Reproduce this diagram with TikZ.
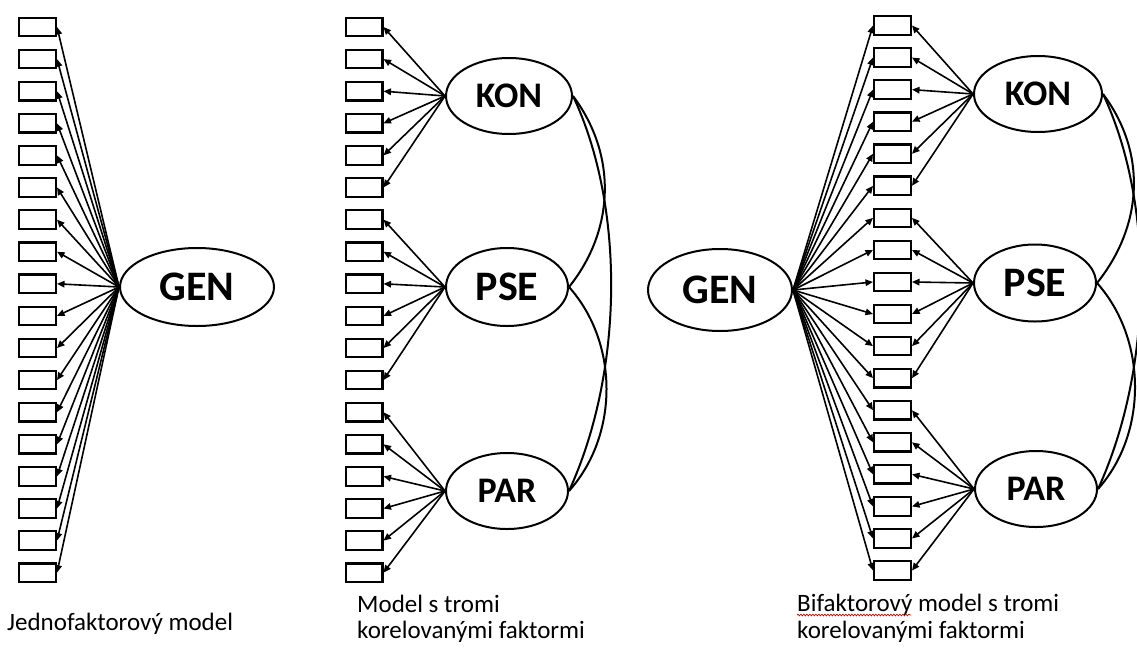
\documentclass[tikz,border=0pt]{standalone}
\usepackage{fontspec}
\setmainfont{Carlito}
\usetikzlibrary{shapes.geometric,arrows.meta,decorations.pathmorphing}

\begin{document}
\begin{tikzpicture}[x=1pt,y=-1pt,
  item/.style={draw, line width=2.2pt, minimum width=36.8pt, minimum height=18.5pt, inner sep=0pt},
  latent/.style={draw, ellipse, line width=2pt, inner sep=0pt},
  small/.style={font=\bfseries\fontsize{36}{40}\selectfont},
  big/.style={font=\bfseries\fontsize{42}{48}\selectfont},
  load/.style={line width=1.6pt, -{Triangle[length=7.5pt,width=6.5pt]}},
  corr/.style={line width=2pt},
  caption/.style={anchor=base west, inner sep=0pt, font=\fontsize{25}{27}\selectfont},
  spell/.style={draw=red!75!black, line width=0.7pt, decorate,
    decoration={snake, amplitude=0.8pt, segment length=3pt}}]

% page frame
\path[clip] (0,0) rectangle (1137,648);

% ---------- one-factor model ----------
\foreach \i in {0,...,17}
  \node[item] (a\i) at (37.5,{27+32.1*\i}) {};
\node[latent, big, minimum width=154pt, minimum height=78pt] (gen1) at (197,287) {GEN};
\foreach \i in {0,...,17}
  \draw[load] (gen1.west) -- (a\i.east);
\node[caption] (cap1) at (7,630) {Jednofaktorový model};

% ---------- three correlated factors ----------
\foreach \i in {0,...,17}
  \node[item] (b\i) at (364,{27+32.1*\i}) {};
\node[latent, small, minimum width=126pt, minimum height=76pt] (kon2) at (509,96) {KON};
\node[latent, big, minimum width=122pt, minimum height=78pt] (pse2) at (507,287) {PSE};
\node[latent, small, minimum width=122pt, minimum height=76pt] (par2) at (507,491) {PAR};
\foreach \i in {0,...,5}
  \draw[load] (kon2.west) -- (b\i.east);
\foreach \i in {6,...,11}
  \draw[load] (pse2.west) -- (b\i.east);
\foreach \i in {12,...,17}
  \draw[load] (par2.west) -- (b\i.east);
\draw[corr] (kon2.east) .. controls +(45,60) and +(45,-56) .. (pse2.east);
\draw[corr] (pse2.east) .. controls +(50,56) and +(50,-56) .. (par2.east);
\draw[corr] (kon2.east) .. controls +(52,110) and +(55,-120) .. (par2.east);
\node[caption] (cap2a) at (357,612) {Model s tromi};
\node[caption] (cap2b) at (357,638) {korelovanými faktormi};

% ---------- bifactor model ----------
\foreach \i in {0,...,17}
  \node[item] (c\i) at (892.5,{25.5+32.06*\i}) {};
\node[latent, big, minimum width=144pt, minimum height=82pt] (gen3) at (720,290) {GEN};
\node[latent, small, minimum width=128pt, minimum height=76pt] (kon3) at (1038,94) {KON};
\node[latent, big, minimum width=122pt, minimum height=77pt] (pse3) at (1035,283) {PSE};
\node[latent, small, minimum width=122pt, minimum height=76pt] (par3) at (1036,489) {PAR};
\foreach \i in {0,...,17}
  \draw[load] (gen3.east) -- (c\i.west);
\foreach \i in {0,...,5}
  \draw[load] (kon3.west) -- (c\i.east);
\foreach \i in {6,...,11}
  \draw[load] (pse3.west) -- (c\i.east);
\foreach \i in {12,...,17}
  \draw[load] (par3.west) -- (c\i.east);
\draw[corr] (kon3.east) .. controls +(45,60) and +(45,-56) .. (pse3.east);
\draw[corr] (pse3.east) .. controls +(50,56) and +(50,-56) .. (par3.east);
\draw[corr] (kon3.east) .. controls +(52,110) and +(55,-120) .. (par3.east);
\node[caption] (cap3a) at (797,611) {Bifaktorový model s tromi};
\node[caption] (cap3b) at (797,638) {korelovanými faktormi};
\draw[spell] (cap3a.base west) ++(0,4) -- ++(114,0);

\end{tikzpicture}
\end{document}
